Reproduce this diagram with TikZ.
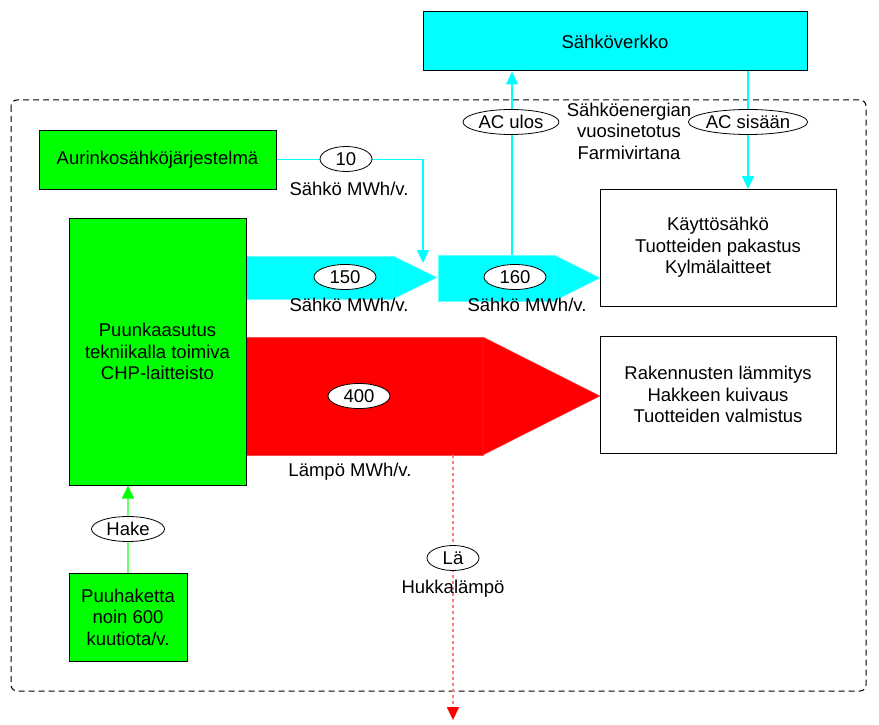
\documentclass[tikz,border=0pt]{standalone}
\usepackage{fontspec}
\setmainfont{Liberation Sans}
\usetikzlibrary{shapes.geometric,arrows.meta}
\definecolor{boxgreen}{RGB}{0,255,0}
\definecolor{flowcyan}{RGB}{0,255,255}
\definecolor{flowred}{RGB}{255,0,0}
\definecolor{lossred}{RGB}{255,120,120}
\definecolor{hakegreen}{RGB}{110,255,110}

\begin{document}
\begin{tikzpicture}[x=1pt, y=-1pt, font=\fontsize{18.5}{21.5}\selectfont,
  main node/.style={draw, line width=1pt, align=center, inner sep=2pt},
  label node/.style={draw, ellipse, fill=white, line width=0.8pt, inner sep=0pt, minimum height=25pt, minimum width=#1},
  label node/.default=52pt,
  feed/.style={line width=1.3pt, -{Triangle[width=12pt,length=13pt,color=#1]}}]
\useasboundingbox (0,0) rectangle (879,725);
\draw[dash pattern=on 6pt off 4pt, line width=1pt, rounded corners=6pt] (11,100) rectangle (866,691);

\filldraw[flowcyan, draw=flowcyan!60!white, line width=0.4pt] (246,256) rectangle (393,299);
\filldraw[flowcyan, draw=flowcyan!60!white, line width=0.4pt] (393,256) -- (437,277.5) -- (393,299) -- cycle;
\filldraw[flowcyan, draw=flowcyan!60!white, line width=0.4pt] (438,255) rectangle (554,301);
\filldraw[flowcyan, draw=flowcyan!60!white, line width=0.4pt] (554,255) -- (600,278) -- (554,301) -- cycle;
\filldraw[flowred, draw=flowred!70!white, line width=0.4pt] (246,337) rectangle (483,455);
\filldraw[flowred, draw=flowred!70!white, line width=0.4pt] (483,337) -- (600,396) -- (483,455) -- cycle;

\node[main node, fill=flowcyan, minimum width=384pt, minimum height=59pt] (grid) at (615,41.5) {Sähköverkko};
\node[main node, fill=boxgreen, minimum width=237pt, minimum height=59pt] (sun) at (157.5,159.5) {Aurinkosähköjärjestelmä};
\node[main node, fill=boxgreen, minimum width=177pt, minimum height=267pt] (chp) at (157.5,351.5) {Puunkaasutus\\tekniikalla toimiva\\CHP-laitteisto};
\node[main node, fill=boxgreen, minimum width=118pt, minimum height=88pt] (chips) at (128,617) {Puuhaketta\\noin 600\\kuutiota/v.};
\node[main node, fill=white, minimum width=236pt, minimum height=117pt] (use) at (718,247.5) {Käyttösähkö\\Tuotteiden pakastus\\Kylmälaitteet};
\node[main node, fill=white, minimum width=236pt, minimum height=117pt] (heat) at (718,394.5) {Rakennusten lämmitys\\Hakkeen kuivaus\\Tuotteiden valmistus};

\coordinate (join) at (423,263);
\coordinate (out) at (512,255);
\coordinate (in) at (748,189);
\coordinate (loss) at (453,455);
\coordinate (lossend) at (453,720);

\draw[feed=flowcyan, flowcyan] (sun.east) -| (join);
\draw[feed=flowcyan, flowcyan] (out) -- (out |- grid.south);
\draw[feed=flowcyan, flowcyan] (in |- grid.south) -- (in);
\draw[feed=boxgreen, hakegreen] (chips.north) -- (chips.north |- chp.south);
\draw[feed=flowred, lossred, line width=1.8pt, dash pattern=on 3pt off 3pt] (loss) -- (lossend);

\node[label node] (l10) at (346,159) {10};
\node[label node=62pt] (l150) at (345,277) {150};
\node[label node=62pt] (l160) at (515,277) {160};
\node[label node=62pt] (l400) at (359,396) {400};
\node[label node=96pt] (lout) at (511,122) {AC ulos};
\node[label node=117pt] (lin) at (748,122) {AC sisään};
\node[label node=73pt] (lhake) at (128,529) {Hake};
\node[label node] (lloss) at (453,558) {Lä};

\node (t10) at (349,189) {Sähkö MWh/v.};
\node (t150) at (349,305) {Sähkö MWh/v.};
\node (t160) at (527,305) {Sähkö MWh/v.};
\node (t400) at (350,472) {Lämpö MWh/v.};
\node (tloss) at (453,589) {Hukkalämpö};
\node[align=center] (tnet) at (629,131) {Sähköenergian\\vuosinetotus\\Farmivirtana};
\end{tikzpicture}
\end{document}
